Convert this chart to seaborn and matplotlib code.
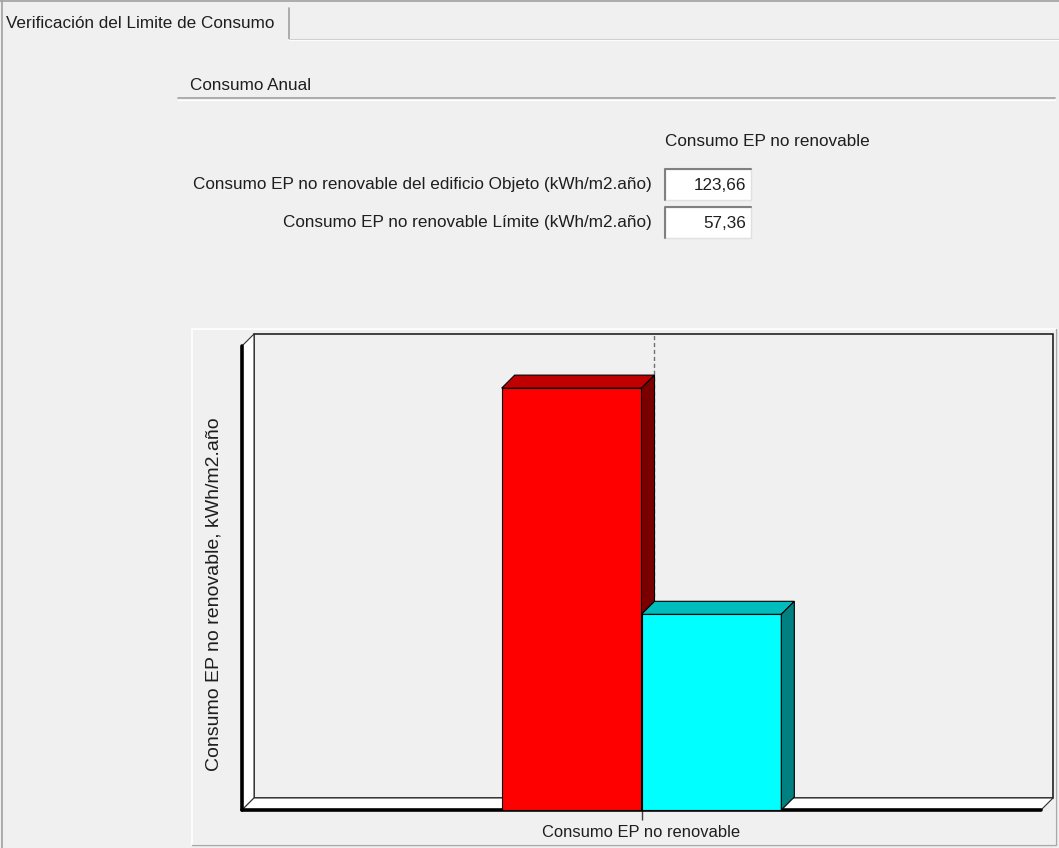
import numpy as np
import pandas as pd
import matplotlib
matplotlib.use("Agg")
import matplotlib.pyplot as plt
import seaborn as sns
from matplotlib.patches import Polygon, Rectangle
from matplotlib.transforms import IdentityTransform
from matplotlib.lines import Line2D

# ---------------- data ----------------
categories = ["Consumo EP no renovable"]
series = ["Consumo EP no renovable del edificio Objeto (kWh/m2.año)",
          "Consumo EP no renovable Límite (kWh/m2.año)"]
values = [123.66, 57.36]
front_colors = ["#ff0000", "#00ffff"]
top_colors = ["#c00000", "#00bcbc"]
side_colors = ["#7a0000", "#008080"]
tab_title = "Verificación del Limite de Consumo"
group_title = "Consumo Anual"
column_title = "Consumo EP no renovable"
y_title = "Consumo EP no renovable, kWh/m2.año"

# ---------------- figure ----------------
sns.set_theme(style="white")
plt.rcParams["font.family"] = ["Liberation Sans", "DejaVu Sans"]
BG = "#f0f0f0"
TXT = "#1e1e1e"
FS = 12.3
W, H = 1059, 848
fig = plt.figure(figsize=(W / 100, H / 100), dpi=100, facecolor=BG)

# UI chrome layer (pixel coordinates, y down)
ui = fig.add_axes([0, 0, 1, 1], zorder=0)
ui.set_xlim(0, W)
ui.set_ylim(H, 0)
ui.axis("off")

ui.plot([0, W], [1, 1], color="#a0a0a0", lw=1.2)
ui.plot([2, 2], [1, H], color="#a0a0a0", lw=1.2)
ui.plot([289, 289], [8, 40], color="#a0a0a0", lw=1.2)
ui.plot([289, W], [40, 40], color="#ffffff", lw=1.5)
ui.plot([289, W], [39, 39], color="#d0d0d0", lw=0.8)
ui.text(6, 23, tab_title, fontsize=FS, color=TXT, va="center", ha="left")

ui.text(190, 85, group_title, fontsize=FS, color=TXT, va="center", ha="left")
ui.plot([178, 1055], [98, 98], color="#a0a0a0", lw=1.2)
ui.plot([178, 1055], [99.5, 99.5], color="#ffffff", lw=1.0)

ui.text(665, 141, column_title, fontsize=FS, color=TXT, va="center", ha="left")
row_y = [185, 223]
for yy, lab, v in zip(row_y, series, values):
    ui.text(652, yy, lab, fontsize=FS, color=TXT, va="center", ha="right")
    ui.add_patch(Rectangle((665, yy - 16), 86, 31, facecolor="white",
                           edgecolor="#e0e0e0", lw=1.0))
    ui.plot([665, 665, 751], [yy + 15, yy - 16, yy - 16], color="#808080", lw=1.5)
    ui.text(746, yy, f"{v:.2f}".replace(".", ","), fontsize=FS, color=TXT,
            va="center", ha="right")

# outer chart panel
ui.add_patch(Rectangle((192, 329), 864, 516, facecolor="none",
                       edgecolor="#ffffff", lw=1.2))
ui.plot([192, 1056, 1056], [845, 845, 329], color="#a8a8a8", lw=1.0)

# ---------------- chart axes ----------------
L, R, T, B = 242, 1041, 346, 810
ax = fig.add_axes([L / W, (H - B) / H, (R - L) / W, (B - T) / H], zorder=1)
ax.patch.set_visible(False)

df = pd.DataFrame({"cat": categories * len(series), "serie": series, "valor": values})
sns.barplot(data=df, x="cat", y="valor", hue="serie", hue_order=series,
            palette=front_colors, saturation=1, width=0.35, ax=ax,
            legend=False, edgecolor="black", linewidth=0.8)
ax.set_xlim(-0.5, 0.5)
ax.set_ylim(0, 136)
for s in ax.spines.values():
    s.set_visible(False)
ax.set_yticks([])
ax.set_xticks([0])
ax.set_xticklabels(categories, fontsize=11.9, color=TXT)
ax.tick_params(axis="x", length=7, width=1, color="#404040", pad=4, bottom=True)
ax.set_xlabel("")
ax.set_ylabel(y_title, fontsize=14, color=TXT)
ax.yaxis.set_label_coords(-0.024, 0.465)

d = 12   # wall depth (px)
db = 13  # bar depth (px)
ident = IdentityTransform()
Hd = H  # display y = H - pixel y

def P(px, py):
    return (px, Hd - py)

# back wall
ax.add_patch(Polygon([P(L + d, B - d), P(R + d, B - d), P(R + d, T - d), P(L + d, T - d)],
                     closed=True, facecolor=BG, edgecolor="#101010", lw=1.1,
                     transform=ident, clip_on=False, zorder=0.5))
# left wall
ax.add_patch(Polygon([P(L, B), P(L, T), P(L + d, T - d), P(L + d, B - d)],
                     closed=True, facecolor="white", edgecolor="#303030", lw=0.8,
                     transform=ident, clip_on=False, zorder=0.6))
# floor
ax.add_patch(Polygon([P(L, B), P(R, B), P(R + d, B - d), P(L + d, B - d)],
                     closed=True, facecolor="white", edgecolor="#303030", lw=0.8,
                     transform=ident, clip_on=False, zorder=0.6))
ax.add_line(Line2D([L, L], [Hd - B, Hd - T], color="black", lw=2.6,
                   transform=ident, clip_on=False, zorder=0.7))
ax.add_line(Line2D([L, R], [Hd - B, Hd - B], color="black", lw=2.6,
                   transform=ident, clip_on=False, zorder=0.7))

# dashed grid line on back wall at category centre
cx = ax.transData.transform((0, 0))[0]
ax.add_line(Line2D([cx + d, cx + d], [Hd - B + d, Hd - T + d], color="#707070",
                   lw=1.0, ls=(0, (3, 2)), transform=ident, clip_on=False, zorder=0.8))

# 3D faces for bars
bars = [p for p in ax.patches if isinstance(p, Rectangle) and p.get_height() > 0
        and p.get_transform() is not ident]
bars = sorted(bars, key=lambda p: p.get_x())[:len(values)]
for i, p in enumerate(bars):
    z = 3 + i
    p.set_zorder(z)
    x0, y0, w, h = p.get_x(), p.get_y(), p.get_width(), p.get_height()
    (dx0, dy0) = ax.transData.transform((x0, y0))
    (dx1, dy1) = ax.transData.transform((x0 + w, y0 + h))
    top = Polygon([(dx0, dy1), (dx1, dy1), (dx1 + db, dy1 + db), (dx0 + db, dy1 + db)],
                  closed=True, facecolor=top_colors[i], edgecolor="black", lw=0.8,
                  transform=ident, clip_on=False, zorder=z + 0.1)
    side = Polygon([(dx1, dy0), (dx1, dy1), (dx1 + db, dy1 + db), (dx1 + db, dy0 + db)],
                   closed=True, facecolor=side_colors[i], edgecolor="black", lw=0.8,
                   transform=ident, clip_on=False, zorder=z + 0.1)
    ax.add_patch(top)
    ax.add_patch(side)

fig.savefig("out.png", dpi=100, facecolor=BG)
